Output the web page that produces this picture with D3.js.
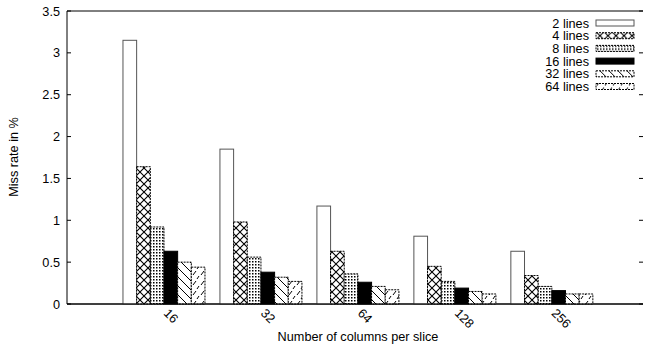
<!DOCTYPE html>
<html>
<head>
<meta charset="utf-8">
<script src="https://cdn.jsdelivr.net/npm/d3@7"></script>
<style>
body { margin: 0; background: #fff; }
text { font-family: "Liberation Sans", Arial, sans-serif; font-size: 12.7px; fill: #000; }
</style>
</head>
<body>
<svg id="chart" width="646" height="349"></svg>
<script>
// categories and series (miss rate in %)
var groups = ["16", "32", "64", "128", "256"];
var seriesNames = ["2 lines", "4 lines", "8 lines", "16 lines", "32 lines", "64 lines"];
var lines2  = [3.15, 1.85, 1.17, 0.81, 0.63];
var lines4  = [1.64, 0.98, 0.63, 0.45, 0.34];
var lines8  = [0.92, 0.56, 0.36, 0.27, 0.21];
var lines16 = [0.63, 0.38, 0.26, 0.19, 0.16];
var lines32 = [0.50, 0.32, 0.21, 0.15, 0.12];
var lines64 = [0.44, 0.27, 0.17, 0.12, 0.12];
var yTicks = [0, 0.5, 1, 1.5, 2, 2.5, 3, 3.5];

var series = [lines2, lines4, lines8, lines16, lines32, lines64];

var svg = d3.select("#chart");
// plot frame (note: "top" is reserved on window, so use plot* names)
var plotLeft = 67, plotRight = 643, plotTop = 11, plotBottom = 304;

var x = d3.scaleLinear().domain([-1, 4.94]).range([plotLeft, plotRight]);
var y = d3.scaleLinear().domain([0, 3.5]).range([plotBottom, plotTop]);
var groupW = 82, barW = groupW / 6;

// fill patterns
var defs = svg.append("defs");
function pat(id, w, h) {
    return defs.append("pattern").attr("id", id)
	.attr("patternUnits", "userSpaceOnUse")
	.attr("width", w).attr("height", h);
}
var p = pat("p4", 8, 8);
p.append("rect").attr("width", 8).attr("height", 8).attr("fill", "#fff");
p.append("path").attr("d", "M0,0L8,8M8,0L0,8").attr("stroke", "#000").attr("stroke-width", 1.1);

p = pat("p8", 3, 3);
p.append("rect").attr("width", 3).attr("height", 3).attr("fill", "#fff");
p.append("rect").attr("width", 1.5).attr("height", 1.5).attr("fill", "#000");

p = pat("p32", 9, 9);
p.append("rect").attr("width", 9).attr("height", 9).attr("fill", "#fff");
p.append("path").attr("d", "M0,0L9,9M-1,8L1,10M8,-1L10,1").attr("stroke", "#000").attr("stroke-width", 1);

p = pat("p64", 8, 10);
p.append("rect").attr("width", 8).attr("height", 10).attr("fill", "#fff");
p.append("path").attr("d", "M1,5L4,1M5,9L7,6").attr("stroke", "#000").attr("stroke-width", 1);

var fills = ["#fff", "url(#p4)", "url(#p8)", "#000", "url(#p32)", "url(#p64)"];
var strokes = ["#555", "#000", "#000", "#000", "#000", "#000"];
var dashes = [null, "2,1", "2,1", null, "2,1", "2,1"];

// axes frame: left, bottom, top
svg.append("path")
    .attr("d", "M" + plotRight + "," + plotTop + "H" + plotLeft + "V" + plotBottom + "H" + plotRight)
    .attr("fill", "none").attr("stroke", "#000").attr("stroke-width", 1);

// y ticks both sides
svg.selectAll(".ytick").data(yTicks).enter().append("path")
    .attr("d", function(d) {
	return "M" + plotLeft + "," + y(d) + "h4M" + plotRight + "," + y(d) + "h-4";
    })
    .attr("stroke", "#000");

svg.selectAll(".ylab").data(yTicks).enter().append("text")
    .attr("x", 60).attr("y", function(d) { return y(d) + 4.5; })
    .attr("text-anchor", "end")
    .text(function(d) { return d; });

// bars
series.forEach(function(vals, s) {
    svg.selectAll(".bar" + s).data(vals).enter().append("rect")
	.attr("x", function(d, i) { return x(i) - groupW / 2 + s * barW; })
	.attr("y", function(d) { return y(d); })
	.attr("width", barW)
	.attr("height", function(d) { return plotBottom - y(d); })
	.attr("fill", fills[s])
	.attr("stroke", strokes[s])
	.attr("stroke-width", 1)
	.attr("stroke-dasharray", dashes[s]);
});

// bottom axis redrawn on top of bars
svg.append("line").attr("x1", plotLeft).attr("x2", plotRight)
    .attr("y1", plotBottom).attr("y2", plotBottom).attr("stroke", "#000").attr("stroke-width", 1.2);

// x tick labels, rotated
svg.selectAll(".xlab").data(groups).enter().append("text")
    .attr("transform", function(d, i) {
	return "translate(" + (x(i) - 1) + ",314) rotate(45)";
    })
    .text(function(d) { return d; });

// axis titles
svg.append("text")
    .attr("x", 358).attr("y", 341)
    .attr("text-anchor", "middle")
    .text("Number of columns per slice");

svg.append("text")
    .attr("transform", "translate(18,157) rotate(-90)")
    .attr("text-anchor", "middle")
    .text("Miss rate in %");

// legend
var legend = svg.selectAll(".leg").data(seriesNames).enter().append("g")
    .attr("transform", function(d, i) { return "translate(0," + (23 + i * 12.7) + ")"; });
legend.append("text")
    .attr("x", 589).attr("y", 4.5)
    .attr("text-anchor", "end")
    .text(function(d) { return d; });
legend.append("rect")
    .attr("x", 596).attr("y", -3).attr("width", 38).attr("height", 6)
    .attr("fill", function(d, i) { return fills[i]; })
    .attr("stroke", function(d, i) { return strokes[i]; })
    .attr("stroke-dasharray", function(d, i) { return dashes[i]; });
</script>
</body>
</html>
